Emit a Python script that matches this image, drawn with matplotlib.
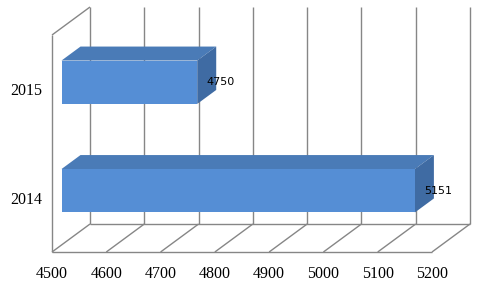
import matplotlib.pyplot as plt
from matplotlib.patches import Polygon
import numpy as np

years = ["2014", "2015"]
values = [5151, 4750]
x_ticks = [4500, 4600, 4700, 4800, 4900, 5000, 5100, 5200]

XMIN, XMAX = 4500, 5200
DX, DY = 70, 0.258  # depth shear in data units
BAR_H = 0.4
GRID = "#868686"
FRONT = "#558ed5"
TOP = "#4a7bb7"
SIDE = "#3f6ba3"

fig = plt.figure(figsize=(4.8, 2.88), dpi=100)
ax = fig.add_axes([52 / 480, 36 / 288, 380 / 480, 217 / 288])
ax.set_xlim(XMIN, XMAX)
ax.set_ylim(0, 2)
for s in ax.spines.values():
    s.set_visible(False)


def line(xs, ys):
    ax.plot(xs, ys, color=GRID, lw=1.0, clip_on=False, zorder=1,
            solid_capstyle="butt")


# back wall verticals and floor diagonals
for t in x_ticks:
    line([t + DX, t + DX], [DY, 2 + DY])
    line([t, t + DX], [0, DY])
# left wall
line([XMIN, XMIN], [0, 2])
line([XMIN, XMIN + DX], [2, 2 + DY])
# floor edges
line([XMIN, XMAX], [0, 0])
line([XMIN + DX, XMAX + DX], [DY, DY])

ypos = np.arange(len(years)) + 0.5
d0, d1 = 0.25, 0.75
for y, v in zip(ypos, values):
    lo, hi = y - BAR_H / 2, y + BAR_H / 2
    top = [(XMIN + d0 * DX, hi + d0 * DY), (v + d0 * DX, hi + d0 * DY),
           (v + d1 * DX, hi + d1 * DY), (XMIN + d1 * DX, hi + d1 * DY)]
    side = [(v + d0 * DX, lo + d0 * DY), (v + d0 * DX, hi + d0 * DY),
            (v + d1 * DX, hi + d1 * DY), (v + d1 * DX, lo + d1 * DY)]
    ax.add_patch(Polygon(top, closed=True, fc=TOP, ec="none", zorder=3,
                         clip_on=False))
    ax.add_patch(Polygon(side, closed=True, fc=SIDE, ec="none", zorder=3,
                         clip_on=False))
    ax.text(v + 0.5 * DX, y + d0 * DY, str(v), fontsize=8,
            family=["DejaVu Sans"], ha="left", va="center", zorder=5)

ax.barh(ypos + d0 * DY, [v - XMIN for v in values], left=XMIN + d0 * DX,
        height=BAR_H, color=FRONT, zorder=4, clip_on=False)

ax.set_xticks(x_ticks)
ax.set_xticklabels([str(t) for t in x_ticks], family="Liberation Serif",
                   fontsize=11.5)
ax.set_yticks(ypos)
ax.set_yticklabels(years, family="Liberation Serif", fontsize=11.5)
ax.tick_params(axis="x", length=0, pad=10)
ax.tick_params(axis="y", length=0, pad=7)

fig.savefig("out.png", dpi=100)
